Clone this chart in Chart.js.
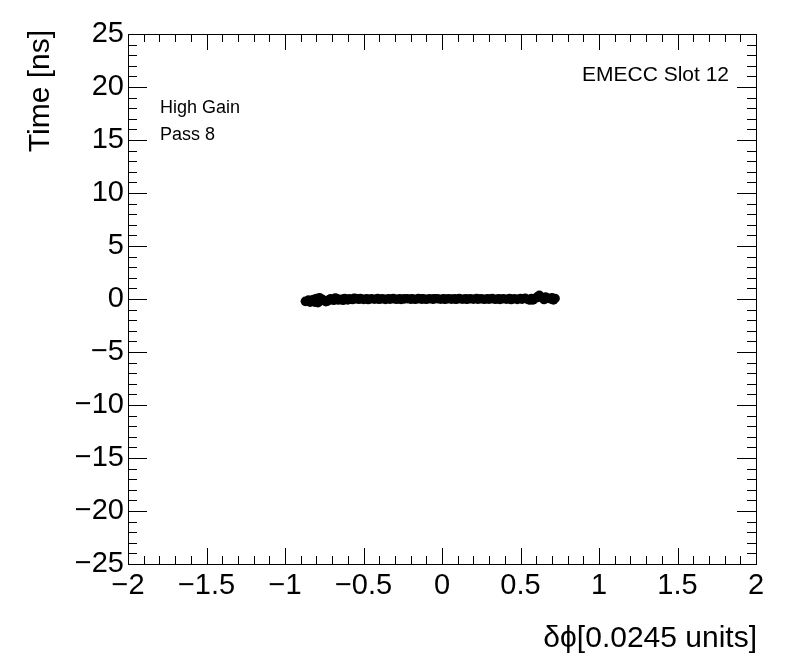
<!DOCTYPE html>
<html>
<head>
<meta charset="utf-8">
<script src="https://cdn.jsdelivr.net/npm/chart.js@4/dist/chart.umd.min.js"></script>
<style>
html, body { margin: 0; padding: 0; background: #fff; }
</style>
</head>
<body>
<canvas id="timeChart" width="796" height="672"></canvas>
<script>
// delta phi values (x) and fitted time (y) per cell
const dPhi = [
  -0.87, -0.85, -0.84, -0.82, -0.80, -0.79, -0.77, -0.76, -0.74, -0.72,
  -0.71, -0.69, -0.67, -0.66, -0.64, -0.62, -0.60, -0.59, -0.57, -0.55,
  -0.53, -0.52, -0.50, -0.48, -0.47, -0.45, -0.43, -0.41, -0.40, -0.38,
  -0.36, -0.34, -0.33, -0.31, -0.29, -0.27, -0.26, -0.24, -0.22, -0.20,
  -0.19, -0.17, -0.15, -0.13, -0.12, -0.10, -0.08, -0.06, -0.05, -0.03,
  -0.01, 0.01, 0.02, 0.04, 0.06, 0.08, 0.09, 0.11, 0.13, 0.15,
  0.16, 0.18, 0.20, 0.22, 0.23, 0.25, 0.27, 0.29, 0.30, 0.32,
  0.34, 0.36, 0.37, 0.39, 0.41, 0.43, 0.44, 0.46, 0.48, 0.50,
  0.51, 0.53, 0.55, 0.57, 0.58, 0.60, 0.62, 0.63, 0.65, 0.67,
  0.69, 0.70, 0.72,
  -0.81, -0.78, -0.73, -0.68, -0.63, -0.56, 0.56, 0.61, 0.66, 0.71
];
const timeNs = [
  -0.22, -0.10, -0.30, -0.05, 0.05, -0.35, -0.15, -0.05, -0.25, -0.08,
  0.02, -0.12, 0.05, -0.10, -0.02, 0.04, -0.08, 0.03, -0.05, 0.04,
  -0.03, 0.05, -0.04, 0.02, -0.05, 0.03, -0.02, 0.04, -0.03, 0.02,
  -0.04, 0.03, -0.02, 0.04, -0.03, 0.02, -0.04, 0.01, 0.03, -0.02,
  0.02, -0.03, 0.04, -0.01, 0.02, -0.03, 0.03, -0.02, 0.01, 0.03,
  -0.02, 0.02, -0.03, 0.03, -0.01, 0.02, -0.03, 0.04, -0.02, 0.02,
  -0.03, 0.03, -0.02, 0.04, -0.01, 0.02, -0.03, 0.03, -0.02, 0.04,
  -0.03, 0.02, -0.04, 0.03, -0.02, 0.04, -0.05, 0.03, -0.04, 0.05,
  -0.02, 0.06, -0.05, 0.04, -0.08, 0.10, 0.35, 0.15, -0.05, 0.08,
  0.02, 0.12, 0.05,
  -0.30, 0.12, -0.20, 0.08, -0.12, 0.06, -0.10, 0.22, 0.18, -0.08
];

const xTicks = [-2, -1.5, -1, -0.5, 0, 0.5, 1, 1.5, 2];
const yTicks = [-25, -20, -15, -10, -5, 0, 5, 10, 15, 20, 25];

const points = dPhi.map((x, i) => ({ x: x, y: timeNs[i] }));

const FONT = '"Liberation Sans", Arial, Helvetica, sans-serif';

function fmt(v) {
  const r = Math.round(v * 100) / 100;
  return r < 0 ? '\u2212' + Math.abs(r) : String(r);
}

// ROOT-style frame with ticks on every side, plus the text labels
const rootFrame = {
  id: 'rootFrame',
  afterDraw(chart) {
    const c = chart.ctx;
    const a = chart.chartArea;
    const sx = chart.scales.x;
    const sy = chart.scales.y;
    c.save();
    c.strokeStyle = '#000';
    c.lineWidth = 1;
    c.strokeRect(a.left + 0.5, a.top + 0.5, a.right - a.left, a.bottom - a.top);

    c.beginPath();
    // x ticks every 0.1, major every 0.5
    for (let i = -20; i <= 20; i++) {
      const px = Math.round(sx.getPixelForValue(i / 10)) + 0.5;
      const len = (i % 5 === 0) ? 16 : 8;
      c.moveTo(px, a.bottom); c.lineTo(px, a.bottom - len);
      c.moveTo(px, a.top); c.lineTo(px, a.top + len);
    }
    // y ticks every 1, major every 5
    for (let j = -25; j <= 25; j++) {
      const py = Math.round(sy.getPixelForValue(j)) + 0.5;
      const len = (j % 5 === 0) ? 19 : 9;
      c.moveTo(a.left, py); c.lineTo(a.left + len, py);
      c.moveTo(a.right, py); c.lineTo(a.right - len, py);
    }
    c.stroke();

    c.fillStyle = '#000';
    c.font = '18px ' + FONT;
    c.textAlign = 'left';
    c.textBaseline = 'alphabetic';
    c.fillText('High Gain', 160, 113);
    c.fillText('Pass 8', 160, 140);
    c.font = '21px ' + FONT;
    c.fillText('EMECC Slot 12', 582, 81);

    // axis titles
    c.font = '30px ' + FONT;
    c.textAlign = 'right';
    c.fillText('\u03b4\u03d5[0.0245 units]', 757, 647);
    c.save();
    c.translate(49, 30);
    c.rotate(-Math.PI / 2);
    c.textAlign = 'right';
    c.fillText('Time [ns]', 0, 0);
    c.restore();
    c.restore();
  }
};

const ctx = document.getElementById('timeChart').getContext('2d');

const myChart = new Chart(ctx, {
  type: 'scatter',
  data: {
    datasets: [{
      label: 'Time',
      data: points,
      backgroundColor: '#000',
      borderColor: '#000',
      borderWidth: 0,
      pointRadius: 4.8,
      pointHoverRadius: 4.8
    }]
  },
  options: {
    responsive: false,
    animation: false,
    devicePixelRatio: 1,
    layout: { padding: { top: 34, right: 40, left: 0, bottom: 0 } },
    plugins: {
      legend: { display: false },
      tooltip: { enabled: false }
    },
    scales: {
      x: {
        type: 'linear',
        min: -2,
        max: 2,
        afterFit(scale) { scale.height = 108; },
        afterBuildTicks(scale) { scale.ticks = xTicks.map(v => ({ value: v })); },
        grid: { display: false, drawTicks: false },
        border: { display: false },
        ticks: {
          padding: 5,
          color: '#000',
          font: { family: FONT, size: 29 },
          maxRotation: 0,
          autoSkip: false,
          callback: v => fmt(v)
        }
      },
      y: {
        type: 'linear',
        min: -25,
        max: 25,
        afterFit(scale) { scale.width = 128; },
        afterBuildTicks(scale) { scale.ticks = yTicks.map(v => ({ value: v })); },
        grid: { display: false, drawTicks: false },
        border: { display: false },
        ticks: {
          padding: 4,
          color: '#000',
          font: { family: FONT, size: 29 },
          autoSkip: false,
          callback: v => fmt(v)
        }
      }
    }
  },
  plugins: [rootFrame]
});
</script>
</body>
</html>
